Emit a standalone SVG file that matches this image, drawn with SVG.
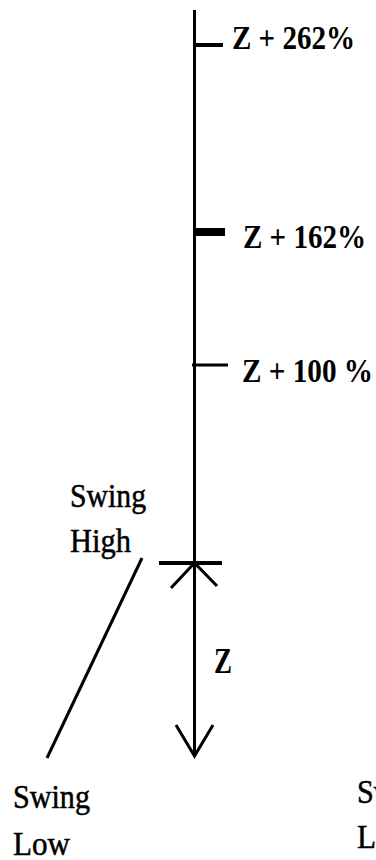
<svg xmlns="http://www.w3.org/2000/svg" width="376" height="860" viewBox="0 0 376 860">
<style>
.ln{stroke:#000;stroke-width:3;fill:none;stroke-linecap:butt}
.lb{font-family:'Liberation Serif','Times New Roman','DejaVu Serif',serif;font-size:33px;font-weight:bold;fill:#000}
.sw{font-family:'Liberation Serif','Times New Roman','DejaVu Serif',serif;font-size:33px;fill:#000;stroke:#000;stroke-width:0.5}
</style>
<rect width="376" height="860" fill="#fff"/>
<g id="connectors">
<line class="ln" x1="194.5" y1="10" x2="194.5" y2="756"/>
<polyline class="ln" points="176,725 194.5,756 213,725"/>
<line class="ln" x1="142" y1="558" x2="47" y2="758"/>
</g>
<g id="tick262">
<line class="ln" x1="194" y1="45" x2="223" y2="45" style="stroke-width:4"/>
<text class="lb" x="232" y="49" textLength="123" lengthAdjust="spacingAndGlyphs">Z + 262%</text>
</g>
<g id="tick162">
<line class="ln" x1="194" y1="232" x2="225" y2="232" style="stroke-width:8"/>
<text class="lb" x="243" y="248" textLength="123" lengthAdjust="spacingAndGlyphs">Z + 162%</text>
</g>
<g id="tick100">
<line class="ln" x1="192" y1="365" x2="228" y2="365"/>
<text class="lb" x="242" y="382" textLength="131" lengthAdjust="spacingAndGlyphs">Z + 100 %</text>
</g>
<g id="swinghigh">
<line class="ln" x1="159" y1="563" x2="222" y2="563" style="stroke-width:4"/>
<polyline class="ln" points="171,588 194.5,563 217,586"/>
<text class="sw" x="70" y="507" textLength="76" lengthAdjust="spacingAndGlyphs">Swing</text>
<text class="sw" x="70" y="552" textLength="61" lengthAdjust="spacingAndGlyphs">High</text>
</g>
<g id="zlabel">
<text class="lb" x="214" y="673" style="font-size:35px" textLength="18" lengthAdjust="spacingAndGlyphs">Z</text>
</g>
<g id="swinglow">
<text class="sw" x="13" y="808" textLength="77" lengthAdjust="spacingAndGlyphs">Swing</text>
<text class="sw" x="13" y="855" textLength="57" lengthAdjust="spacingAndGlyphs">Low</text>
</g>
<g id="swinglow2">
<text class="sw" x="357" y="803" textLength="77" lengthAdjust="spacingAndGlyphs">Swing</text>
<text class="sw" x="357" y="848" textLength="57" lengthAdjust="spacingAndGlyphs">Low</text>
</g>
</svg>
